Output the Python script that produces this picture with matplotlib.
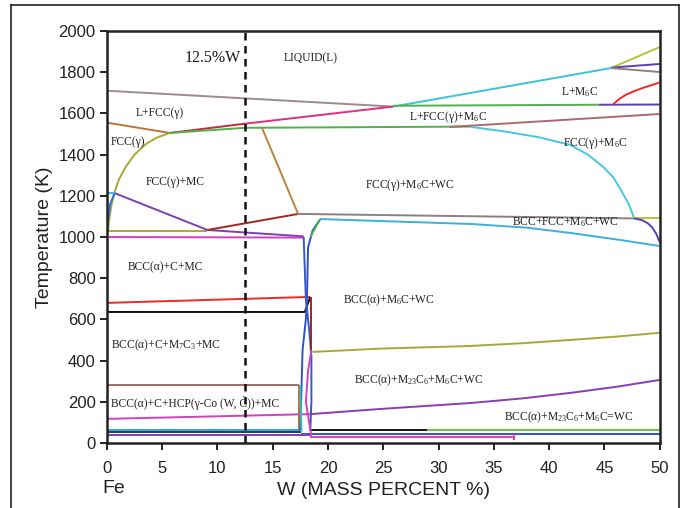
import matplotlib
matplotlib.use("Agg")
import matplotlib.pyplot as plt
from matplotlib.lines import Line2D

plt.rcParams['font.family'] = ['Liberation Sans', 'DejaVu Sans']
plt.rcParams['mathtext.default'] = 'regular'

# phase boundaries, W mass % vs temperature (K)
liquidus_w = [0, 25.9]
liquidus_T = [1710, 1633]
liq_m6c_w = [25.9, 45.6]
liq_m6c_T = [1633, 1820]
liq_top_olive_w = [45.6, 50]
liq_top_olive_T = [1820, 1922]
liq_top_purple_w = [45.6, 50]
liq_top_purple_T = [1822, 1840]
liq_top_gray_w = [45.6, 50]
liq_top_gray_T = [1820, 1801]
fcc_liq_red_w = [5.7, 12.5]
fcc_liq_red_T = [1505, 1550]
fcc_liq_pink_w = [12.5, 25.9]
fcc_liq_pink_T = [1550, 1633]
peritectic_green_w = [25.9, 44.5]
peritectic_green_T = [1637, 1642]
peritectic_purple_w = [44.5, 50]
peritectic_purple_T = [1642, 1643]
m6c_red_w = [45.8, 46.4, 47.0, 47.8, 48.5, 49.3, 50]
m6c_red_T = [1645, 1672, 1692, 1710, 1724, 1738, 1750]
solidus_green_w = [5.7, 12.5, 33]
solidus_green_T = [1505, 1530, 1536]
fcc_m6c_top_w = [31, 50]
fcc_m6c_top_T = [1534, 1597]
fcc_m6c_curve_w = [33, 36, 39, 41.9, 43.5, 44.9, 45.8, 46.5, 47.2, 47.7]
fcc_m6c_curve_T = [1534, 1512, 1485, 1447, 1400, 1340, 1290, 1228, 1160, 1090]
fcc_left_w = [0, 5.7]
fcc_left_T = [1555, 1505]
fcc_solvus_w = [5.7, 4.5, 3.5, 2.5, 1.7, 1.1, 0.7, 0.4, 0.2, 0.1]
fcc_solvus_T = [1505, 1482, 1450, 1400, 1340, 1280, 1220, 1150, 1080, 1030]
olive_1030_w = [0.1, 9.1]
olive_1030_T = [1030, 1030]
blue_left_w = [0, 0.1, 0.3, 0.7]
blue_left_T = [1000, 1080, 1160, 1213]
cyan_short_w = [0, 0.7]
cyan_short_T = [1213, 1213]
purple_mc_w = [0.7, 9.1, 17.8]
purple_mc_T = [1213, 1034, 1003]
darkred_w = [9.1, 17.3]
darkred_T = [1034, 1112]
brown_diag_w = [14.0, 17.3]
brown_diag_T = [1534, 1112]
gray_bcc_fcc_w = [17.3, 47.7]
gray_bcc_fcc_T = [1112, 1090]
olive_right_w = [47.7, 50]
olive_right_T = [1090, 1090]
purple_right_w = [47.7, 48.4, 48.9, 49.3, 49.7, 50]
purple_right_T = [1090, 1082, 1068, 1048, 1015, 975]
cyan_lower_w = [19.3, 33, 38, 42, 46.5, 50]
cyan_lower_T = [1087, 1063, 1045, 1019, 985, 956]
magenta_1000_w = [0, 17.8]
magenta_1000_T = [1000, 997]
red_690_w = [0, 18.4]
red_690_T = [680, 709]
black_636_w = [0, 17.9, 18.4]
black_636_T = [636, 636, 709]
olive_vert_w = [0.05, 0.05]
olive_vert_T = [1030, 636]
teal_vert_w = [0.05, 0.05]
teal_vert_T = [636, 55]
brown_282_w = [0, 17.4]
brown_282_T = [282, 282]
brown_vert_w = [17.4, 17.4]
brown_vert_T = [282, 63]
magenta_low_w = [0, 18.4]
magenta_low_T = [117, 140]
purple_low_w = [18.4, 24.7, 32.9, 37.5, 41.9, 46, 50]
purple_low_T = [140, 165, 194, 216, 243, 272, 306]
olive_low_w = [18.6, 24.7, 32.9, 37.5, 41.9, 46, 50]
olive_low_T = [442, 458, 471, 484, 500, 516, 535]
teal_63_w = [0, 17.6]
teal_63_T = [63, 63]
black_63_w = [18.4, 29]
black_63_T = [63, 63]
green_63_w = [29, 50]
green_63_T = [63, 63]
navy_52_w = [0, 17.6]
navy_52_T = [52, 52]
blue_45_w = [17.6, 50]
blue_45_T = [45, 45]
purple_39_w = [0, 18.4]
purple_39_T = [39, 39]
pink_30_w = [18.4, 36.8, 36.8, 36.8]
pink_30_T = [30, 30, 20, 44]
blue_v1_w = [19.3, 18.6, 18.2, 18.1, 18.0, 17.7, 17.5]
blue_v1_T = [1087, 1030, 950, 700, 600, 450, 60]
blue_v2_w = [17.8, 17.9, 18.0, 18.3, 18.5, 18.5, 18.4]
blue_v2_T = [1000, 850, 700, 550, 420, 200, 60]
green_v_w = [18.4, 19.3]
green_v_T = [1000, 1087]
darkred_v_w = [18.5, 18.5]
darkred_v_T = [709, 450]
magenta_v_w = [18.5, 18.2, 18.0, 18.3, 18.5]
magenta_v_T = [450, 350, 200, 100, 30]
cyan_v_w = [17.5, 17.55, 17.6]
cyan_v_T = [282, 150, 55]

boundaries = [
    (liquidus_w, liquidus_T, '#9e8a8a'),
    (liq_m6c_w, liq_m6c_T, '#3cc3dc'),
    (liq_top_olive_w, liq_top_olive_T, '#b4c23c'),
    (liq_top_purple_w, liq_top_purple_T, '#5b3db8'),
    (liq_top_gray_w, liq_top_gray_T, '#8f8080'),
    (fcc_liq_red_w, fcc_liq_red_T, '#c8283a'),
    (fcc_liq_pink_w, fcc_liq_pink_T, '#e0307a'),
    (peritectic_green_w, peritectic_green_T, '#4fb04f'),
    (peritectic_purple_w, peritectic_purple_T, '#5b3db8'),
    (m6c_red_w, m6c_red_T, '#f02828'),
    (solidus_green_w, solidus_green_T, '#4fb04f'),
    (fcc_m6c_top_w, fcc_m6c_top_T, '#a86a6a'),
    (fcc_m6c_curve_w, fcc_m6c_curve_T, '#48c4e0'),
    (fcc_left_w, fcc_left_T, '#b8763a'),
    (fcc_solvus_w, fcc_solvus_T, '#a8a838'),
    (olive_1030_w, olive_1030_T, '#a8a838'),
    (blue_left_w, blue_left_T, '#2f6fd8'),
    (cyan_short_w, cyan_short_T, '#3cc3dc'),
    (purple_mc_w, purple_mc_T, '#7b3fb5'),
    (darkred_w, darkred_T, '#a0281e'),
    (brown_diag_w, brown_diag_T, '#b8863b'),
    (gray_bcc_fcc_w, gray_bcc_fcc_T, '#8f8080'),
    (olive_right_w, olive_right_T, '#b4c23c'),
    (purple_right_w, purple_right_T, '#5b3db8'),
    (cyan_lower_w, cyan_lower_T, '#3cb0d8'),
    (magenta_1000_w, magenta_1000_T, '#d040c0'),
    (red_690_w, red_690_T, '#f02828'),
    (black_636_w, black_636_T, '#111111'),
    (olive_vert_w, olive_vert_T, '#a8a838'),
    (teal_vert_w, teal_vert_T, '#30a8b8'),
    (brown_282_w, brown_282_T, '#a07060'),
    (brown_vert_w, brown_vert_T, '#b8742c'),
    (magenta_low_w, magenta_low_T, '#d040c0'),
    (purple_low_w, purple_low_T, '#8a3cb8'),
    (olive_low_w, olive_low_T, '#a8a838'),
    (teal_63_w, teal_63_T, '#30a8b8'),
    (black_63_w, black_63_T, '#111111'),
    (green_63_w, green_63_T, '#6cc040'),
    (navy_52_w, navy_52_T, '#203880'),
    (blue_45_w, blue_45_T, '#3350d0'),
    (purple_39_w, purple_39_T, '#7b3fb5'),
    (pink_30_w, pink_30_T, '#e040b0'),
    (blue_v1_w, blue_v1_T, '#3050d0'),
    (blue_v2_w, blue_v2_T, '#3858c8'),
    (green_v_w, green_v_T, '#4fb04f'),
    (darkred_v_w, darkred_v_T, '#a0281e'),
    (magenta_v_w, magenta_v_T, '#d040c0'),
    (cyan_v_w, cyan_v_T, '#30b8c8'),
]

# phase field labels: text, W %, T
phase_labels = [
    ('LIQUID(L)', 18.4, 1869),
    ('L+FCC(γ)', 4.8, 1602),
    ('FCC(γ)', 1.9, 1461),
    ('FCC(γ)+MC', 6.2, 1267),
    ('L+FCC(γ)+M$_6$C', 30.9, 1583),
    ('FCC(γ)+M$_6$C+WC', 27.4, 1252),
    ('L+M$_6$C', 42.8, 1704),
    ('FCC(γ)+M$_6$C', 44.2, 1456),
    ('BCC+FCC+M$_6$C+WC', 41.5, 1073),
    ('BCC(α)+C+MC', 5.3, 854),
    ('BCC(α)+M$_6$C+WC', 25.5, 694),
    ('BCC(α)+C+M$_7$C$_3$+MC', 5.3, 476),
    ('BCC(α)+M$_{23}$C$_6$+M$_6$C+WC', 28.2, 306),
    ('BCC(α)+C+HCP(γ-Co (W, Ċ))+MC', 8.0, 194),
    ('BCC(α)+M$_{23}$C$_6$+M$_6$C=WC', 41.8, 126),
]

x_ticks = [0, 5, 10, 15, 20, 25, 30, 35, 40, 45, 50]
y_ticks = [0, 200, 400, 600, 800, 1000, 1200, 1400, 1600, 1800, 2000]

fig = plt.figure(figsize=(6.85, 5.08), dpi=100)
ax = fig.add_axes([0.156, 0.128, 0.807, 0.811])

for w, T, c in boundaries:
    ax.plot(w, T, color=c, lw=1.4, solid_capstyle='butt')

# 12.5 %W section
ax.axvline(12.5, color='#111111', lw=1.8, ls=(0, (3, 2.2)))
ax.text(9.6, 1869, '12.5%W', ha='center', va='center', fontsize=11.5,
        family=['Liberation Serif', 'DejaVu Serif'], color='#1a1a1a')

for txt, w, T in phase_labels:
    ax.text(w, T, txt, ha='center', va='center', fontsize=8.3,
            family=['Liberation Serif', 'DejaVu Serif'], color='#1f1f1f')

ax.set_xlim(0, 50)
ax.set_ylim(0, 2000)
ax.set_xticks(x_ticks)
ax.set_yticks(y_ticks)
ax.tick_params(direction='out', length=5, width=1.4, labelsize=12,
               colors='#222222', pad=3)
ax.tick_params(axis='x', pad=8)
for s in ax.spines.values():
    s.set_linewidth(1.8)
    s.set_color('#222222')

ax.set_ylabel('Temperature (K)', fontsize=14, color='#222222', labelpad=4)
ax.set_xlabel('W (MASS PERCENT %)', fontsize=14, color='#222222', labelpad=4)
ax.text(0.65, -220, 'Fe', ha='center', va='center', fontsize=14,
        color='#222222', clip_on=False)

# outer frame
for xs, ys in [([0.016, 0.016], [0, 0.99]), ([0.016, 0.991], [0.99, 0.99]),
               ([0.991, 0.991], [0.99, 0])]:
    fig.add_artist(Line2D(xs, ys, transform=fig.transFigure,
                          color='#222222', lw=1.2))

plt.savefig('out.png', dpi=100)
plt.close()
